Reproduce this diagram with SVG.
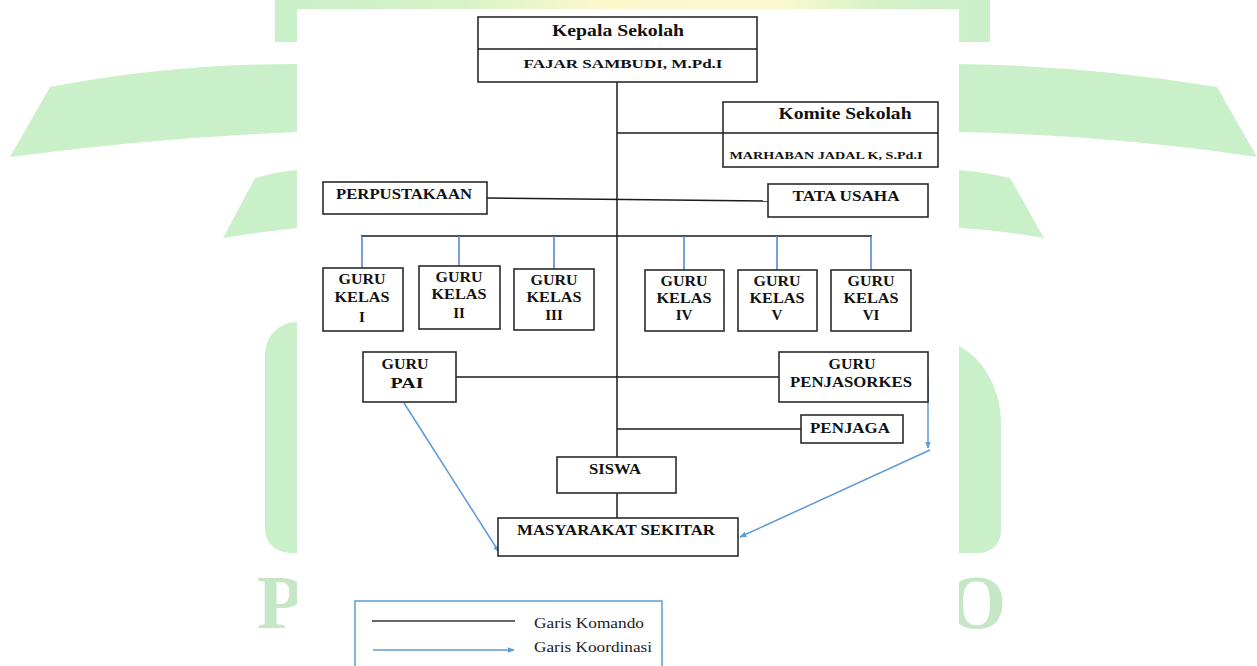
<svg xmlns="http://www.w3.org/2000/svg" width="1257" height="666" viewBox="0 0 1257 666">
<defs>
<style>
.wm{fill:#c9f0c9}
.wl{fill:#c5e7c5;font-family:"Liberation Serif",serif;font-weight:bold;font-size:76px}
.box{fill:#fff;stroke:#2b2b2b;stroke-width:1.6}
.t{font-family:"Liberation Serif","Times New Roman",serif;font-weight:bold;fill:#111;text-anchor:middle}
.cmd{stroke:#1a1a1a;stroke-width:1.5;fill:none}
.crd{stroke:#5b9bd5;stroke-width:1.5;fill:none}
.kv{stroke:#4a7fd0;stroke-width:1.5}
.lg{font-family:"Liberation Serif",serif;font-size:14px;fill:#222}
</style>
<linearGradient id="topg" x1="0" y1="0" x2="1" y2="0">
<stop offset="0" stop-color="#c9f0c9"/>
<stop offset="0.25" stop-color="#d6f2c8"/>
<stop offset="0.45" stop-color="#fbf8cc"/>
<stop offset="0.7" stop-color="#fcf9d0"/>
<stop offset="0.85" stop-color="#d4f1c8"/>
<stop offset="1" stop-color="#c9f0c9"/>
</linearGradient>
<marker id="ah" viewBox="0 0 10 10" refX="9" refY="5" markerWidth="7" markerHeight="7" orient="auto" markerUnits="userSpaceOnUse">
<path d="M0,1 L10,5 L0,9 Z" fill="#5b9bd5"/>
</marker>
</defs>

<g id="watermark">
<rect x="275" y="0" width="715" height="42" fill="url(#topg)"/>
<path class="wm" d="M50,87 Q170,64 297,64 L297,132 Q150,138 10,157 Z"/>
<path class="wm" d="M959,64 Q1090,66 1217,87 L1257,157 Q1110,135 959,132 Z"/>
<path class="wm" d="M255,178 Q275,172 297,170 L297,228 Q260,232 223,238 Z"/>
<path class="wm" d="M959,170 Q985,172 1010,178 L1044,238 Q1000,230 959,228 Z"/>
<path class="wm" d="M297,322 C280,322 265,335 265,356 L265,528 C265,544 277,553 292,553 L297,553 Z"/>
<path class="wm" d="M959,346 C985,360 1001,390 1001,425 L1001,530 C1001,545 990,553 978,553 L959,553 Z"/>
<text class="wl" x="257" y="628">P</text>
<text class="wl" x="947" y="628">O</text>
<rect x="297" y="9" width="662" height="657" fill="#fff"/>
</g>

<g id="connectors">
<line class="cmd" x1="617" y1="82" x2="617" y2="457"/>
<line class="cmd" x1="617" y1="493" x2="617" y2="518"/>
<line class="cmd" x1="617" y1="133" x2="757" y2="133"/>
<line class="cmd" x1="487" y1="198" x2="768" y2="201"/>
<line class="cmd" x1="361" y1="236" x2="872" y2="236"/>
<line class="kv" x1="362" y1="236" x2="362" y2="268"/>
<line class="kv" x1="459" y1="236" x2="459" y2="266"/>
<line class="kv" x1="554" y1="236" x2="554" y2="269"/>
<line class="kv" x1="684" y1="236" x2="684" y2="270"/>
<line class="kv" x1="777" y1="236" x2="777" y2="270"/>
<line class="kv" x1="871" y1="236" x2="871" y2="270"/>
<line class="cmd" x1="456" y1="377" x2="779" y2="377"/>
<line class="cmd" x1="617" y1="429" x2="801" y2="429"/>
<line class="crd" x1="404" y1="403" x2="499" y2="552" marker-end="url(#ah)"/>
<polyline class="crd" points="928,377 928,448" marker-end="url(#ah)"/>
<line class="crd" x1="930" y1="450" x2="740" y2="537" marker-end="url(#ah)"/>
</g>

<g id="kepala">
<rect class="box" x="478" y="17" width="279" height="65"/>
<line class="cmd" x1="478" y1="49" x2="757" y2="49"/>
<text class="t" x="618" y="36" font-size="16" textLength="132" lengthAdjust="spacingAndGlyphs">Kepala Sekolah</text>
<text class="t" x="623" y="68" font-size="12" textLength="199" lengthAdjust="spacingAndGlyphs">FAJAR SAMBUDI, M.Pd.I</text>
</g>

<g id="komite">
<rect class="box" x="723" y="102" width="215" height="65"/>
<line class="cmd" x1="723" y1="133" x2="938" y2="133"/>
<text class="t" x="845" y="119" font-size="16" textLength="133" lengthAdjust="spacingAndGlyphs">Komite Sekolah</text>
<text class="t" x="826" y="159" font-size="10.5" textLength="193" lengthAdjust="spacingAndGlyphs">MARHABAN JADAL K, S.Pd.I</text>
</g>

<g id="perpustakaan">
<rect class="box" x="323" y="182" width="164" height="32"/>
<text class="t" x="404" y="199" font-size="14.5" textLength="136" lengthAdjust="spacingAndGlyphs">PERPUSTAKAAN</text>
</g>

<g id="tatausaha">
<rect class="box" x="768" y="184" width="160" height="33"/>
<text class="t" x="846" y="201" font-size="14.5" textLength="107" lengthAdjust="spacingAndGlyphs">TATA USAHA</text>
</g>

<g id="guru1">
<rect class="box" x="323" y="268" width="80" height="63"/>
<text class="t" x="362" y="284" font-size="15" textLength="47" lengthAdjust="spacingAndGlyphs">GURU</text>
<text class="t" x="362" y="302" font-size="15" textLength="55" lengthAdjust="spacingAndGlyphs">KELAS</text>
<text class="t" x="362" y="322" font-size="15">I</text>
</g>
<g id="guru2">
<rect class="box" x="419" y="266" width="81" height="63"/>
<text class="t" x="459" y="282" font-size="15" textLength="47" lengthAdjust="spacingAndGlyphs">GURU</text>
<text class="t" x="459" y="299" font-size="15" textLength="55" lengthAdjust="spacingAndGlyphs">KELAS</text>
<text class="t" x="459" y="318" font-size="15">II</text>
</g>
<g id="guru3">
<rect class="box" x="514" y="269" width="80" height="61"/>
<text class="t" x="554" y="285" font-size="15" textLength="47" lengthAdjust="spacingAndGlyphs">GURU</text>
<text class="t" x="554" y="302" font-size="15" textLength="55" lengthAdjust="spacingAndGlyphs">KELAS</text>
<text class="t" x="554" y="320" font-size="15">III</text>
</g>
<g id="guru4">
<rect class="box" x="645" y="270" width="79" height="61"/>
<text class="t" x="684" y="286" font-size="15" textLength="47" lengthAdjust="spacingAndGlyphs">GURU</text>
<text class="t" x="684" y="303" font-size="15" textLength="55" lengthAdjust="spacingAndGlyphs">KELAS</text>
<text class="t" x="684" y="320" font-size="15">IV</text>
</g>
<g id="guru5">
<rect class="box" x="738" y="270" width="79" height="61"/>
<text class="t" x="777" y="286" font-size="15" textLength="47" lengthAdjust="spacingAndGlyphs">GURU</text>
<text class="t" x="777" y="303" font-size="15" textLength="55" lengthAdjust="spacingAndGlyphs">KELAS</text>
<text class="t" x="777" y="320" font-size="15">V</text>
</g>
<g id="guru6">
<rect class="box" x="831" y="270" width="80" height="61"/>
<text class="t" x="871" y="286" font-size="15" textLength="47" lengthAdjust="spacingAndGlyphs">GURU</text>
<text class="t" x="871" y="303" font-size="15" textLength="55" lengthAdjust="spacingAndGlyphs">KELAS</text>
<text class="t" x="871" y="320" font-size="15">VI</text>
</g>

<g id="gurupai">
<rect class="box" x="363" y="352" width="93" height="50"/>
<text class="t" x="405" y="369" font-size="15" textLength="47" lengthAdjust="spacingAndGlyphs">GURU</text>
<text class="t" x="407" y="388" font-size="15" textLength="33" lengthAdjust="spacingAndGlyphs">PAI</text>
</g>

<g id="gurupenjas">
<rect class="box" x="779" y="352" width="149" height="50"/>
<text class="t" x="852" y="369" font-size="15" textLength="47" lengthAdjust="spacingAndGlyphs">GURU</text>
<text class="t" x="851" y="387" font-size="15" textLength="122" lengthAdjust="spacingAndGlyphs">PENJASORKES</text>
</g>

<g id="penjaga">
<rect class="box" x="801" y="415" width="102" height="28"/>
<text class="t" x="850" y="433" font-size="15" textLength="80" lengthAdjust="spacingAndGlyphs">PENJAGA</text>
</g>

<g id="siswa">
<rect class="box" x="557" y="457" width="119" height="36"/>
<text class="t" x="615" y="474" font-size="15" textLength="52" lengthAdjust="spacingAndGlyphs">SISWA</text>
</g>

<g id="masyarakat">
<rect class="box" x="498" y="518" width="240" height="38"/>
<text class="t" x="616" y="535" font-size="15" textLength="198" lengthAdjust="spacingAndGlyphs">MASYARAKAT SEKITAR</text>
</g>

<g id="legend">
<rect x="355" y="601" width="307" height="80" fill="#fff" stroke="#5b9bd5" stroke-width="1.5"/>
<line x1="372" y1="621" x2="515" y2="621" stroke="#333" stroke-width="1.5"/>
<line class="crd" x1="373" y1="650" x2="514" y2="650" marker-end="url(#ah)"/>
<text class="lg" x="534" y="628" textLength="110" lengthAdjust="spacingAndGlyphs">Garis Komando</text>
<text class="lg" x="534" y="652" textLength="118" lengthAdjust="spacingAndGlyphs">Garis Koordinasi</text>
</g>
</svg>
